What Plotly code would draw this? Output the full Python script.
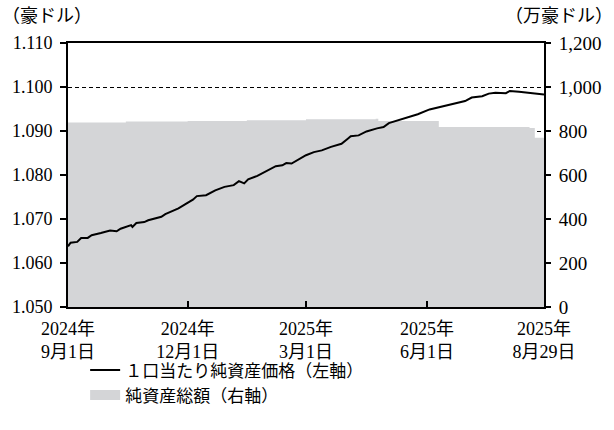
import plotly.graph_objects as go

# 1口当たり純資産価格（左軸, 豪ドル）
nav_dates = [
    "2024-09-01", "2024-09-03", "2024-09-08", "2024-09-11", "2024-09-16", "2024-09-19",
    "2024-09-26", "2024-10-03", "2024-10-08", "2024-10-11", "2024-10-19", "2024-10-20",
    "2024-10-23", "2024-10-29", "2024-11-01", "2024-11-06", "2024-11-11", "2024-11-14",
    "2024-11-19", "2024-11-24", "2024-11-29", "2024-12-05", "2024-12-08", "2024-12-15",
    "2024-12-22", "2024-12-29", "2025-01-05", "2025-01-09", "2025-01-13", "2025-01-16",
    "2025-01-23", "2025-01-31", "2025-02-06", "2025-02-11", "2025-02-14", "2025-02-18",
    "2025-02-23", "2025-03-01", "2025-03-07", "2025-03-13", "2025-03-20", "2025-03-28",
    "2025-04-02", "2025-04-04", "2025-04-10", "2025-04-16", "2025-04-24", "2025-04-29",
    "2025-05-03", "2025-05-09", "2025-05-18", "2025-05-25", "2025-06-03", "2025-06-12",
    "2025-06-20", "2025-06-30", "2025-07-05", "2025-07-13", "2025-07-18", "2025-07-23",
    "2025-07-31", "2025-08-03", "2025-08-10", "2025-08-20", "2025-08-29",
]
nav_values = [
    1.0638, 1.0646, 1.0648, 1.0657, 1.0657, 1.0663,
    1.0668, 1.0674, 1.0672, 1.0678, 1.0686, 1.0682,
    1.0691, 1.0693, 1.0697, 1.0701, 1.0705, 1.0711,
    1.0718, 1.0724, 1.0733, 1.0744, 1.0752, 1.0754,
    1.0765, 1.0773, 1.0777, 1.0786, 1.0781, 1.0790,
    1.0798, 1.0811, 1.0820, 1.0822, 1.0827, 1.0826,
    1.0835, 1.0845, 1.0852, 1.0856, 1.0864, 1.0871,
    1.0883, 1.0888, 1.0890, 1.0899, 1.0906, 1.0909,
    1.0918, 1.0923, 1.0932, 1.0938, 1.0949, 1.0955,
    1.0961, 1.0968, 1.0976, 1.0979, 1.0985, 1.0987,
    1.0986, 1.0991, 1.0989, 1.0986, 1.0983,
]

# 純資産総額（右軸, 万豪ドル）
aum_dates = [
    "2024-09-01", "2024-10-15", "2024-12-01", "2025-01-15", "2025-03-01",
    "2025-04-23", "2025-04-25", "2025-06-10", "2025-08-18", "2025-08-22", "2025-08-29",
]
aum_values = [839, 843, 846, 849, 853, 856, 845, 818, 814, 769, 769]

# 軸目盛
x_tick_vals = ["2024-09-01", "2024-12-01", "2025-03-01", "2025-06-01", "2025-08-29"]
x_tick_text = ["2024年<br>9月1日", "2024年<br>12月1日", "2025年<br>3月1日",
               "2025年<br>6月1日", "2025年<br>8月29日"]
left_ticks = [1.05, 1.06, 1.07, 1.08, 1.09, 1.10, 1.11]
right_ticks = [0, 200, 400, 600, 800, 1000, 1200]

FONT = "Liberation Serif, Noto Sans CJK JP, serif"
GRAY = "#d4d5d7"

fig = go.Figure()
fig.add_trace(go.Scatter(
    x=aum_dates, y=aum_values, yaxis="y", mode="lines",
    line=dict(width=0, color=GRAY, shape="hv"), fill="tozeroy", fillcolor=GRAY,
    showlegend=False, hoverinfo="skip",
))
fig.add_trace(go.Scatter(
    x=nav_dates, y=nav_values, yaxis="y2", mode="lines",
    line=dict(color="black", width=2), name="１口当たり純資産価格（左軸）",
))
fig.add_trace(go.Scatter(
    x=[None], y=[None], yaxis="y", mode="lines",
    line=dict(color=GRAY, width=13), name="純資産総額（右軸）",
))

fig.update_layout(
    width=614, height=430,
    margin=dict(l=68, r=70, t=43, b=123),
    paper_bgcolor="white", plot_bgcolor="white",
    font=dict(family=FONT, color="black", size=17),
    xaxis=dict(
        type="date", range=["2024-09-01", "2025-08-29"],
        tickvals=x_tick_vals, ticktext=x_tick_text,
        ticks="inside", ticklen=6, tickcolor="black", tickwidth=1.5,
        showline=True, linecolor="black", linewidth=1.8, mirror=True,
        showgrid=False, tickfont=dict(size=18, family=FONT), ticklabelstandoff=4,
    ),
    yaxis=dict(
        side="right", range=[0, 1200], tickvals=right_ticks, tickformat=",d",
        ticks="outside", ticklen=5, tickcolor="black", tickwidth=1.5,
        showline=True, linecolor="black", linewidth=1.8,
        showgrid=True, gridcolor="black", gridwidth=1, griddash="4px,3px",
        zeroline=False, tickfont=dict(size=19, family=FONT), ticklabelstandoff=4,
    ),
    yaxis2=dict(
        overlaying="y", side="left", range=[1.05, 1.11], tickvals=left_ticks,
        tickformat=".3f", ticks="outside", ticklen=6, tickcolor="black", tickwidth=1.5,
        showline=True, linecolor="black", linewidth=1.8, showgrid=False, zeroline=False,
        tickfont=dict(size=18, family=FONT), ticklabelstandoff=4,
    ),
    legend=dict(
        x=0.036, y=-0.172, xanchor="left", yanchor="top",
        bgcolor="rgba(0,0,0,0)", font=dict(size=17, family=FONT),
        tracegroupgap=0,
    ),
    annotations=[
        dict(text="（豪ドル）", xref="paper", yref="paper", x=-0.142, y=1.103,
             xanchor="left", yanchor="middle", showarrow=False, font=dict(size=18)),
        dict(text="（万豪ドル）", xref="paper", yref="paper", x=1.0315, y=1.103,
             xanchor="center", yanchor="middle", showarrow=False, font=dict(size=18)),
    ],
)

fig.write_html("out.html", config={"displayModeBar": False},
               post_script="document.body.style.margin='0px';")
